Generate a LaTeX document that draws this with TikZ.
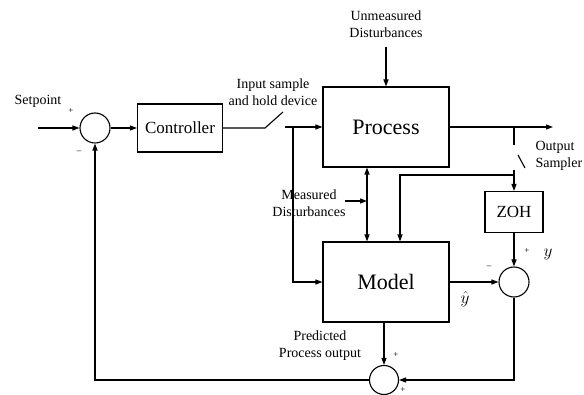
\documentclass[tikz,border=0pt]{standalone}
\usepackage{fontspec}
\setmainfont{Liberation Serif}
\usetikzlibrary{arrows.meta}

\begin{document}
\begin{tikzpicture}[x=1pt,y=-1pt,line width=1.1pt,
    >={Triangle[length=7pt,width=5pt]},
    block/.style={rectangle,draw,inner sep=0pt},
    big block/.style={block,minimum width=126pt,minimum height=80pt,
        font=\fontsize{22}{25}\selectfont},
    small block/.style={block,font=\fontsize{17}{20}\selectfont},
    sum node/.style={circle,draw,inner sep=0pt,minimum size=30pt},
    txt/.style={font=\fontsize{14}{17}\selectfont,align=center,inner sep=0pt},
    pm/.style={font=\fontsize{9}{9}\selectfont,inner sep=0pt},
    var/.style={font=\fontsize{18}{18}\selectfont,inner sep=0pt}]

    \useasboundingbox (0,0) rectangle (584,395);

    \node[sum node] (s1) at (95,128) {};
    \node[small block,minimum width=85pt,minimum height=48pt] (ctrl) at (180,128) {Controller};
    \node[big block] (proc) at (386,127) {Process};
    \node[big block] (model) at (386,282) {Model};
    \node[small block,minimum width=58pt,minimum height=41pt] (zoh) at (514,212) {ZOH};
    \node[sum node] (s2) at (514,282) {};
    \node[sum node,minimum size=29pt] (s3) at (384,380) {};

    \coordinate (sp) at (38,128);
    \coordinate (ud) at (386,47);
    \coordinate (sw1) at (265,128);
    \coordinate (sw1 tip) at (283,112);
    \coordinate (sw1 out) at (285,127);
    \coordinate (in tap) at (293,127);
    \coordinate (out) at (553,127);
    \coordinate (out tap) at (514,127);
    \coordinate (sw2 top) at (514,145);
    \coordinate (sw2 a) at (518,155);
    \coordinate (sw2 b) at (525,168);
    \coordinate (sw2 out) at (514,170);
    \coordinate (y tap) at (514,175);
    \coordinate (md) at (345,201);
    \coordinate (md join) at (367,201);

    \draw[->] (sp) -- (s1.west);
    \draw[->] (s1.east) -- (ctrl.west);
    \draw (ctrl.east) -- (sw1) -- (sw1 tip);
    \draw[->] (sw1 out) -- (proc.west);
    \draw[->] (ud) -- (proc.north);
    \draw[->] (in tap) |- (model.west);
    \draw[->] (proc.east) -- (out);
    \draw (out tap) -- (sw2 top);
    \draw (sw2 a) -- (sw2 b);
    \draw[->] (sw2 out) -- (zoh.north);
    \draw[->] (y tap) -| ([xshift=14pt]model.north);
    \draw[->] (md) -- (md join);
    \draw[<->] ([xshift=-19pt]proc.south) -- ([xshift=-19pt]model.north);
    \draw[->] (model.east) -- (s2.west);
    \draw[->] (zoh.south) -- (s2.north);
    \draw[->] (s2.south) |- (s3.east);
    \draw[->] (model.south -| s3.north) -- (s3.north);
    \draw[->] (s3.west) -| (s1.south);

    \node[txt] (setpoint) at (38,101) {Setpoint};
    \node[txt] (sample) at (273,92) {Input sample\\and hold device};
    \node[txt] (unmeas) at (386,24) {Unmeasured\\Disturbances};
    \node[txt] (meas) at (309,203) {Measured\\Disturbances};
    \node[txt,align=left,anchor=west] (sampler) at (535,156) {Output\\Sampler};
    \node[txt] (pred) at (320,346) {Predicted\\Process output};

    \node[pm] at (71,111) {+};
    \node[pm] at (79,152) {--};
    \node[pm] at (527,251) {+};
    \node[pm] at (489,267) {--};
    \node[pm] at (396,355) {+};
    \node[pm] at (403,390) {+};
    \node[var] (y) at (548,254) {$y$};
    \node[var] (yhat) at (465,299) {$\hat{y}$};
\end{tikzpicture}
\end{document}
